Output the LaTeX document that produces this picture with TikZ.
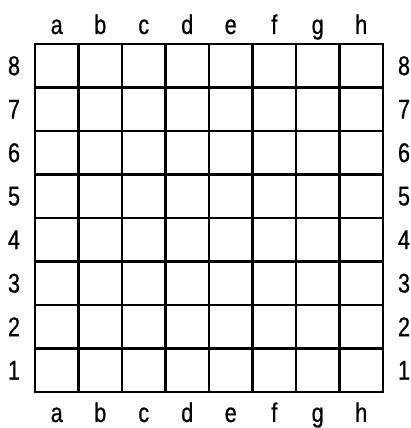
\documentclass[tikz,border=0pt]{standalone}
\usepackage{fontspec}
\setmainfont{Liberation Sans}[FakeStretch=0.8, FakeBold=0.6]
\begin{document}
\begin{tikzpicture}[
  x=1pt, y=1pt,
  cell/.style={draw, line width=2.2pt, minimum size=43.5pt, inner sep=0pt, outer sep=0pt},
  coord/.style={font=\fontsize{27}{27}\selectfont, inner sep=0pt},
  file/.style={coord, anchor=base}
]
\useasboundingbox (0,0) rectangle (411,428);
% board squares
\foreach \f [count=\i from 0] in {a,b,c,d,e,f,g,h}
  \foreach \r in {1,...,8}
    \node[cell] (\f\r) at (56.75+43.5*\i, 14.25+43.5*\r) {};
% file letters
\foreach \f in {a,b,c,d,e,f,g,h} {
  \node[file] (top\f) at (\f8 |- 0,394) {\f};
  \node[file] (bot\f) at (\f1 |- 0,6) {\f};
}
% rank numbers
\foreach \r in {1,...,8} {
  \node[coord] (left\r) at (a\r -| 14,0) {\r};
  \node[coord] (right\r) at (h\r -| 404,0) {\r};
}
\end{tikzpicture}
\end{document}
